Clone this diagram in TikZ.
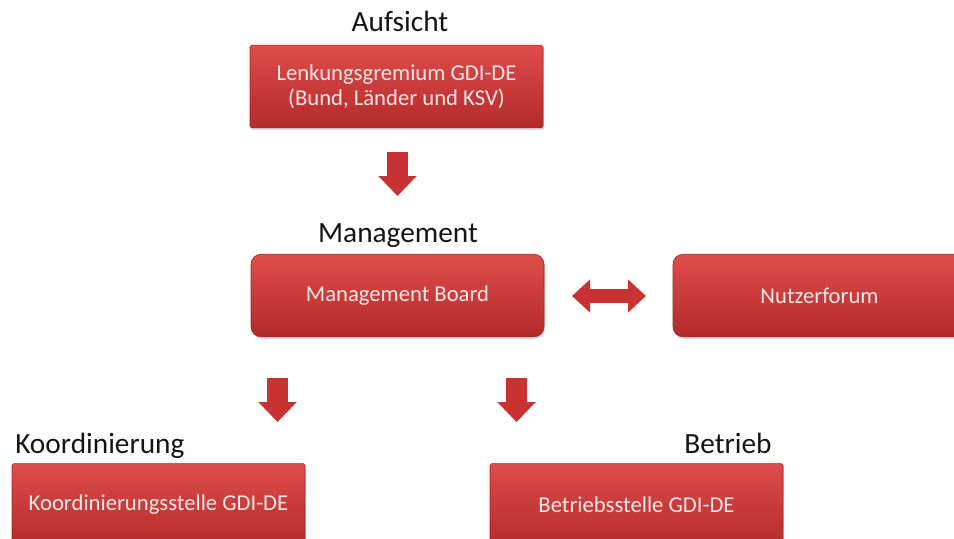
\documentclass[tikz,border=0pt]{standalone}
\usepackage{fontspec}
\setmainfont{Carlito}
\usepackage{tikz}
\usepackage{xcolor}
\usetikzlibrary{arrows.meta,shadows}

\definecolor{boxtop}{RGB}{221,77,75}
\definecolor{boxbottom}{RGB}{180,42,42}
\definecolor{boxedge}{RGB}{160,38,38}
\definecolor{boxtext}{RGB}{250,232,230}
\definecolor{arrowred}{RGB}{200,50,50}

\tikzset{
  redbox/.style={draw=boxedge, line width=0.4pt, top color=boxtop, bottom color=boxbottom,
    text=boxtext, minimum width=219.75pt, minimum height=62pt, inner sep=0pt,
    align=center, font=\fontsize{17}{18.5}\selectfont,
    drop shadow={opacity=0.3, shadow xshift=0.8pt, shadow yshift=-1.5pt}},
  squarebox/.style={redbox, rounded corners=1.2pt},
  roundbox/.style={redbox, rounded corners=7.5pt},
  title/.style={anchor=base, font=\fontsize{22}{26}\selectfont, text=black!92, inner sep=0pt},
  fatarrow/.style={draw=arrowred, line width=15.75pt, -{Triangle[width=28pt, length=15pt]}},
  twoarrow/.style={draw=arrowred, line width=10.5pt,
    {Triangle[width=24pt, length=13.5pt]}-{Triangle[width=24pt, length=13.5pt]}}
}

\begin{document}
\begin{tikzpicture}[x=0.75pt, y=-0.75pt]
    \useasboundingbox (0,0) rectangle (954,539);
    \clip (0,0) rectangle (954,539);

    \node[title] (aufsicht) at (400,31.5) {Aufsicht};
    \node[squarebox] (lenk) at (396.5,86.5) {Lenkungsgremium GDI-DE\\(Bund, L\"ander und KSV)};

    \node[title] (management) at (398,242) {Management};
    \node[roundbox] (board) at (397.5,295.5) {Management Board};
    \node[roundbox] (nutzer) at (819.5,295.5) {Nutzerforum};

    \node[title, anchor=base west] (koordinierung) at (15,453) {Koordinierung};
    \node[squarebox] (koord) at (158.5,505) {Koordinierungsstelle GDI-DE};

    \node[title] (betrieb) at (728,453) {Betrieb};
    \node[squarebox] (betriebsstelle) at (636.5,505) {Betriebsstelle GDI-DE};

    \coordinate (a1s) at (397.5,152);
    \coordinate (a1e) at (397.5,196);
    \coordinate (a2s) at (277.5,378);
    \coordinate (a2e) at (277.5,422);
    \coordinate (a3s) at (516.5,378);
    \coordinate (a3e) at (516.5,422);
    \coordinate (bl) at (572,296);
    \coordinate (br) at (646,296);

    \draw[fatarrow] (a1s) -- (a1e);
    \draw[fatarrow] (a2s) -- (a2e);
    \draw[fatarrow] (a3s) -- (a3e);
    \draw[twoarrow] (bl) -- (br);
\end{tikzpicture}
\end{document}
